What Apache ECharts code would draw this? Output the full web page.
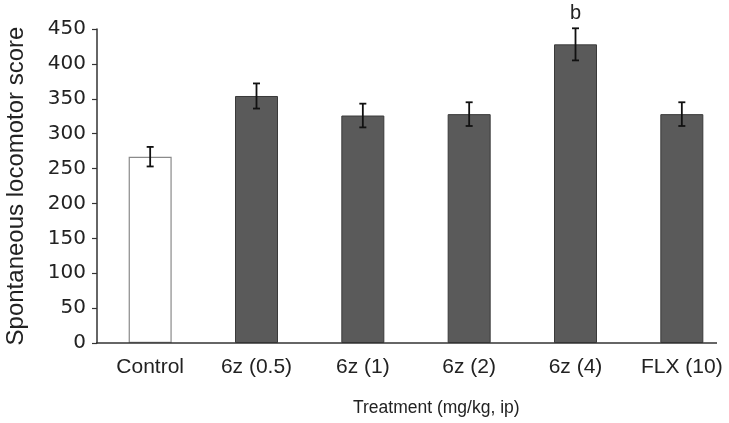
<!DOCTYPE html>
<html><head><meta charset="utf-8">
<script src="https://cdn.jsdelivr.net/npm/echarts@6/dist/echarts.min.js"></script>
<style>html,body{margin:0;padding:0;background:#fff}#c{width:729px;height:423px}</style>
</head><body><div id="c"></div>
<script>
var categories = ['Control', '6z (0.5)', '6z (1)', '6z (2)', '6z (4)', 'FLX (10)'];
var means = [267, 354, 326, 328, 428, 328];
var sem = [14, 18, 17, 17, 23, 17];
var marks = ['', '', '', '', 'b', ''];
var yTicks = [0, 50, 100, 150, 200, 250, 300, 350, 400, 450];

var chart = echarts.init(document.getElementById('c'), null, {renderer: 'canvas'});
var LIB = 'Liberation Sans, Arial, sans-serif';
var barData = means.map(function (v, i) {
  return i === 0
    ? {value: v, itemStyle: {color: '#ffffff', borderColor: '#8a8a8a', borderWidth: 1.2}}
    : {value: v, itemStyle: {color: '#5a5a5a', borderColor: '#3a3a3a', borderWidth: 1}};
});
var errData = means.map(function (v, i) { return [i, v - sem[i], v + sem[i], marks[i]]; });

chart.setOption({
  animation: false,
  grid: {left: 97, top: 29, width: 638, bottom: 80, containLabel: false, outerBoundsMode: 'none'},
  title: {
    text: 'Treatment (mg/kg, ip)', left: 348, top: 394,
    textStyle: {fontFamily: LIB, fontSize: 17.5, fontWeight: 'normal', color: '#222'}
  },
  xAxis: {
    type: 'category', data: categories,
    axisLine: {show: false},
    axisTick: {show: false},
    axisLabel: {fontFamily: LIB, fontSize: 21, color: '#222', margin: 14, interval: 0}
  },
  yAxis: {
    type: 'value', min: 0, max: 450, interval: 50,
    name: 'Spontaneous locomotor score', nameLocation: 'middle', nameGap: 69,
    nameTextStyle: {fontFamily: LIB, fontSize: 24, color: '#222'},
    splitLine: {show: false},
    axisLine: {show: true, lineStyle: {color: '#333', width: 1.5}},
    axisTick: {show: true, length: 5, lineStyle: {color: '#333', width: 1.2}},
    axisLabel: {fontFamily: 'DejaVu Sans, sans-serif', fontSize: 20, color: '#222', margin: 11,
      formatter: function (v) { return yTicks.indexOf(v) >= 0 ? String(v) : ''; }}
  },
  graphic: [{
    type: 'line', shape: {x1: 96, y1: 343, x2: 717, y2: 343},
    style: {stroke: '#333', lineWidth: 1.5}, z: 10
  }],
  series: [{
    type: 'bar', data: barData, barWidth: 43
  }, {
    type: 'custom', data: errData, z: 5,
    renderItem: function (params, api) {
      var x = api.value(0);
      var lo = api.coord([x, api.value(1)]);
      var hi = api.coord([x, api.value(2)]);
      var hw = 3.5;
      var style = {stroke: '#111', lineWidth: 1.8};
      var children = [
        {type: 'line', shape: {x1: lo[0], y1: lo[1], x2: hi[0], y2: hi[1]}, style: style},
        {type: 'line', shape: {x1: lo[0] - hw, y1: lo[1], x2: lo[0] + hw, y2: lo[1]}, style: style},
        {type: 'line', shape: {x1: hi[0] - hw, y1: hi[1], x2: hi[0] + hw, y2: hi[1]}, style: style}
      ];
      var m = errData[params.dataIndex][3];
      if (m) {
        children.push({type: 'text', style: {text: m, x: hi[0], y: hi[1] - 5,
          align: 'center', verticalAlign: 'bottom', fill: '#222',
          font: '20px Liberation Sans, Arial, sans-serif'}});
      }
      return {type: 'group', children: children};
    }
  }]
});
</script></body></html>
